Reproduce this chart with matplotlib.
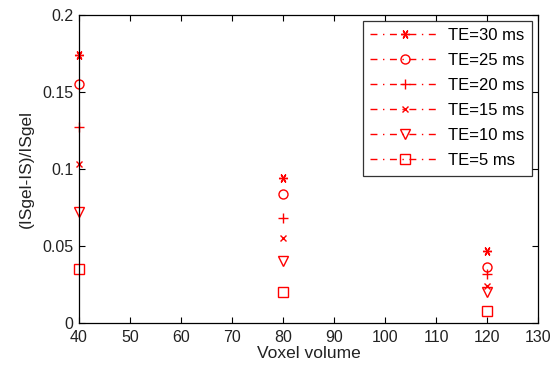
import matplotlib
matplotlib.use("Agg")
import matplotlib.pyplot as plt
from matplotlib.lines import Line2D

voxel = [40, 80, 120]
te30 = [0.174, 0.094, 0.047]
te25 = [0.155, 0.084, 0.036]
te20 = [0.127, 0.068, 0.032]
te15 = [0.103, 0.055, 0.024]
te10 = [0.072, 0.040, 0.020]
te5 = [0.035, 0.020, 0.008]
labels = ["TE=30 ms", "TE=25 ms", "TE=20 ms", "TE=15 ms", "TE=10 ms", "TE=5 ms"]
xticks = [40, 50, 60, 70, 80, 90, 100, 110, 120, 130]
yticks = [0, 0.05, 0.1, 0.15, 0.2]

plt.rcParams["font.family"] = ["Liberation Sans", "DejaVu Sans"]

series = [te30, te25, te20, te15, te10, te5]
markers = [(6, 2, 90), "o", "+", "x", "v", "s"]
sizes = [6.5, 6.5, 7, 4, 7, 6.5]

fig = plt.figure(figsize=(5.52, 3.75), dpi=100)
ax = fig.add_axes([0.143, 0.139, 0.832, 0.821])
red = "#ff0000"
handles = []
for vals, m, s, lab in zip(series, markers, sizes, labels):
    ax.plot(voxel, vals, linestyle="none", marker=m, markersize=s, color=red,
            markerfacecolor="none", markeredgecolor=red, markeredgewidth=1.0,
            clip_on=False)
    handles.append(Line2D([], [], linestyle=(0, (5, 4, 1, 4)), color=red,
                          linewidth=1.0, marker=m, markersize=s,
                          markerfacecolor="none", markeredgecolor=red,
                          label=lab))

ax.set_xlim(40, 130)
ax.set_ylim(0, 0.2)
ax.set_xticks(xticks)
ax.set_xticklabels([str(v) for v in xticks])
ax.set_yticks(yticks)
ax.set_yticklabels(["0", "0.05", "0.1", "0.15", "0.2"])
ax.tick_params(direction="in", top=True, right=True, labelsize=11.5,
               length=4, width=0.8, colors="black", labelcolor="#222222")
ax.tick_params(axis="x", pad=5)
ax.tick_params(axis="y", pad=4)
for sp in ax.spines.values():
    sp.set_linewidth(0.9)
ax.set_xlabel("Voxel volume", fontsize=12.5, color="#222222", labelpad=1)
ax.set_ylabel("(ISgel-IS)/ISgel", fontsize=12.5, color="#222222", labelpad=6)

leg = ax.legend(handles=handles, loc="upper right", fontsize=12,
                frameon=True, fancybox=False, edgecolor="black",
                handlelength=4.2, borderaxespad=0.35, labelspacing=0.6,
                borderpad=0.45, handletextpad=0.5)
leg.get_frame().set_linewidth(0.9)

fig.savefig("out.png", dpi=100, facecolor="white")
